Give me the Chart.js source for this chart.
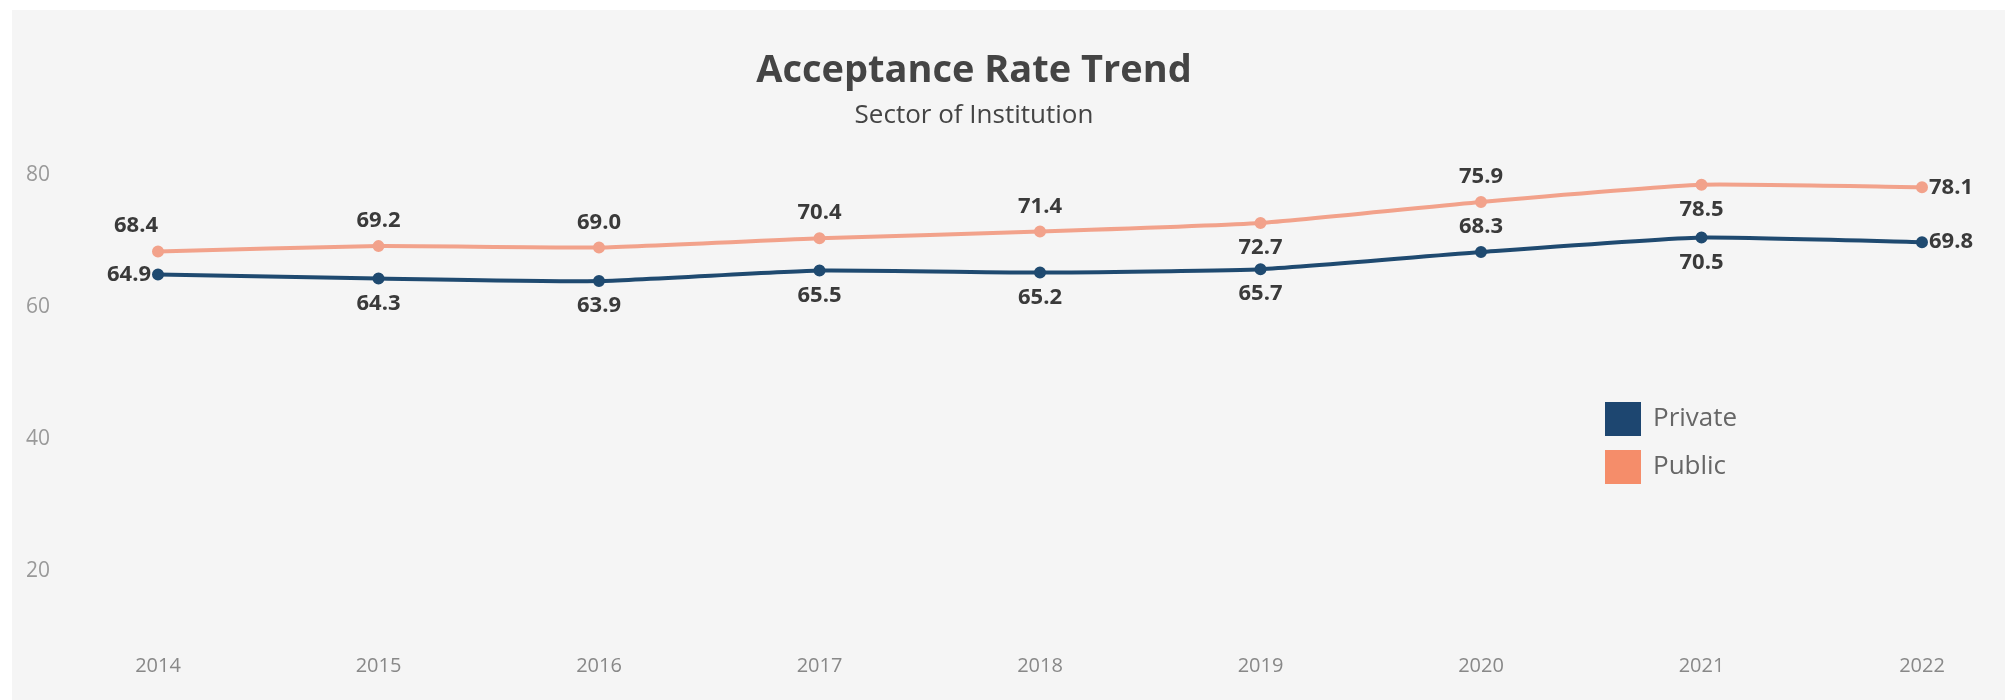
<!DOCTYPE html>
<html>
<head>
<meta charset="utf-8">
<script src="https://cdn.jsdelivr.net/npm/chart.js@4"></script>
<style>
  html, body { margin: 0; padding: 0; background: #fff; }
  #wrap { width: 2005px; height: 700px; position: relative; }
</style>
</head>
<body>
<div id="wrap"><canvas id="rateChart" width="2005" height="700"></canvas></div>
<script>
// Acceptance rate trend by sector of institution
const years = ['2014', '2015', '2016', '2017', '2018', '2019', '2020', '2021', '2022'];
const privateRates = [64.9, 64.3, 63.9, 65.5, 65.2, 65.7, 68.3, 70.5, 69.8];
const publicRates = [68.4, 69.2, 69.0, 70.4, 71.4, 72.7, 75.9, 78.5, 78.1];
const yTicks = [20, 40, 60, 80];

// where each value label sits relative to its point
const privateLabelPos = ['left', 'below', 'below', 'below', 'below', 'below', 'above', 'below', 'right'];
const publicLabelPos = ['aboveLeft', 'above', 'above', 'above', 'above', 'below', 'above', 'below', 'right'];

const FONT = "'Open Sans', 'DejaVu Sans', sans-serif";

const bgPlugin = {
    id: 'panelBg',
    beforeDraw(chart) {
        const c = chart.ctx;
        c.save();
        c.fillStyle = '#f5f5f5';
        c.fillRect(12, 10, chart.width - 12, chart.height - 10);
        c.restore();
    }
};

const valueLabels = {
    id: 'valueLabels',
    afterDatasetsDraw(chart) {
        const c = chart.ctx;
        c.save();
        c.font = 'bold 22px ' + FONT;
        c.fillStyle = '#3a3a3a';
        chart.data.datasets.forEach((ds, di) => {
            const meta = chart.getDatasetMeta(di);
            const pos = ds.labelPos;
            meta.data.forEach((pt, i) => {
                const txt = ds.data[i].toFixed(1);
                let x = pt.x, y = pt.y;
                c.textBaseline = 'middle';
                switch (pos[i]) {
                    case 'above': c.textAlign = 'center'; y -= 25; break;
                    case 'below': c.textAlign = 'center'; y += 25; break;
                    case 'left': c.textAlign = 'right'; x -= 7; break;
                    case 'right': c.textAlign = 'left'; x += 7; break;
                    case 'aboveLeft': c.textAlign = 'right'; y -= 26; break;
                }
                c.fillText(txt, x, y);
            });
        });
        c.restore();
    }
};

const sideLegend = {
    id: 'sideLegend',
    afterDraw(chart) {
        const c = chart.ctx;
        c.save();
        c.font = '26px ' + FONT;
        c.textAlign = 'left';
        c.textBaseline = 'middle';
        chart.data.datasets.forEach((ds, i) => {
            const top = 402 + i * 48;
            c.fillStyle = ds.legendColor;
            c.fillRect(1605, top, 36, 34);
            c.fillStyle = '#666';
            c.fillText(ds.label, 1653, top + 17);
        });
        c.restore();
    }
};

new Chart(document.getElementById('rateChart'), {
    type: 'line',
    data: {
        labels: years,
        datasets: [{
            label: 'Private',
            data: privateRates,
            labelPos: privateLabelPos,
            borderColor: '#1f4a70',
            backgroundColor: '#1f4a70',
            legendColor: '#1d4670',
            borderWidth: 4,
            pointRadius: 4,
            tension: 0.15
        }, {
            label: 'Public',
            data: publicRates,
            labelPos: publicLabelPos,
            borderColor: '#f2a28b',
            backgroundColor: '#f2a28b',
            legendColor: '#f58d6a',
            borderWidth: 4,
            pointRadius: 4,
            tension: 0.15
        }]
    },
    options: {
        responsive: false,
        animation: false,
        layout: { padding: { left: 26, right: 83, top: 0, bottom: 5 } },
        plugins: {
            legend: { display: false },
            tooltip: { enabled: false },
            title: {
                display: true,
                text: 'Acceptance Rate Trend',
                color: '#444',
                font: { family: FONT, size: 38, weight: 'bold' },
                padding: { top: 48, bottom: 0 }
            },
            subtitle: {
                display: true,
                text: 'Sector of Institution',
                color: '#444',
                font: { family: FONT, size: 26 },
                padding: { top: 6, bottom: 11 }
            }
        },
        scales: {
            x: {
                grid: { display: false, drawTicks: false },
                border: { display: false },
                ticks: { color: '#888', padding: 17, font: { family: FONT, size: 20 } }
            },
            y: {
                min: 10,
                max: 85,
                afterBuildTicks: (axis) => { axis.ticks = yTicks.map(v => ({ value: v })); },
                afterFit: (axis) => { axis.width = 132; },
                grid: { display: false, drawTicks: false },
                border: { display: false },
                ticks: { color: '#999', crossAlign: 'far', font: { family: FONT, size: 21 } }
            }
        }
    },
    plugins: [bgPlugin, valueLabels, sideLegend]
});
</script>
</body>
</html>
